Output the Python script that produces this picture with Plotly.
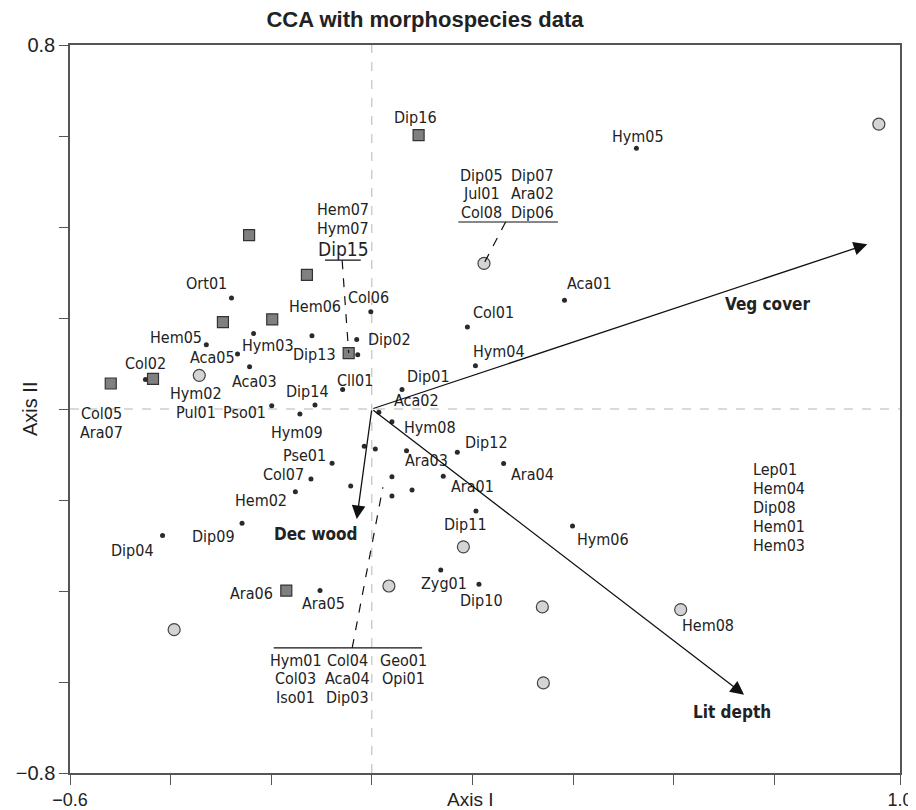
import plotly.graph_objects as go

# ---------------- data ----------------
# species scores shown as small dots with labels
species_names = ["Ort01", "Hem05", "Hym03", "Aca05", "Hem06", "Dip02", "Dip13", "Col06",
                 "Col02", "Aca03", "Cll01", "Dip14", "Pso01", "Hym09", "Dip01", "Aca02",
                 "Hym08", "Ara03", "Dip12", "Ara04", "Ara01", "Dip11", "Hym06", "Zyg01",
                 "Dip10", "Pse01", "Col07", "Hem02", "Dip09", "Dip04", "Ara05", "Hym05",
                 "Aca01", "Col01", "Hym04"]
species_x = [-0.279, -0.329, -0.235, -0.267, -0.119, -0.030, -0.028, -0.002,
             -0.450, -0.243, -0.058, -0.113, -0.199, -0.143, 0.060, 0.014,
             0.040, 0.069, 0.170, 0.262, 0.142, 0.207, 0.399, 0.137,
             0.213, -0.079, -0.121, -0.152, -0.258, -0.416, -0.103, 0.526,
             0.383, 0.190, 0.206]
species_y = [0.244, 0.141, 0.166, 0.121, 0.161, 0.153, 0.119, 0.214,
             0.065, 0.093, 0.043, 0.009, 0.007, -0.011, 0.043, -0.007,
             -0.028, -0.092, -0.095, -0.120, -0.148, -0.224, -0.257, -0.354,
             -0.385, -0.119, -0.154, -0.182, -0.251, -0.278, -0.399, 0.573,
             0.239, 0.180, 0.095]

# species scores without an individual label (grouped names)
unlabeled_x = [-0.015, 0.007, 0.040, 0.080, 0.040, -0.042]
unlabeled_y = [-0.082, -0.088, -0.149, -0.178, -0.191, -0.169]

# square markers
square_labels = ["", "", "", "", "", "", "Dip16", "", "Ara06"]
square_x = [-0.129, -0.296, -0.198, -0.046, -0.435, -0.519, 0.093, -0.244, -0.170]
square_y = [0.295, 0.191, 0.197, 0.123, 0.066, 0.056, 0.602, 0.382, -0.399]

# circle markers
circle_labels = ["", "", "", "", "", "", "", "Hem08", ""]
circle_x = [-0.343, 0.223, 1.008, 0.182, 0.034, 0.339, 0.341, 0.614, -0.393]
circle_y = [0.074, 0.320, 0.626, -0.303, -0.389, -0.435, -0.602, -0.441, -0.485]

# environmental vectors
env_names = ["Veg cover", "Lit depth", "Dec wood"]
env_x = [0.985, 0.740, -0.030]
env_y = [0.362, -0.628, -0.242]

# grouped name blocks: (columns of names, column x, first-line y)
group_hem07 = [["Hem07", "Hym07", "Dip15"]]
group_hem07_x = [-0.057]
group_hem07_y = 0.439
group_dip05 = [["Dip05", "Jul01", "Col08"], ["Dip07", "Ara02", "Dip06"]]
group_dip05_x = [0.219, 0.320]
group_dip05_y = 0.514
group_hym01 = [["Hym01", "Col03", "Iso01"], ["Col04", "Aca04", "Dip03"], ["Geo01", "Opi01"]]
group_hym01_x = [-0.151, -0.049, 0.062]
group_hym01_y = -0.552
group_lep01 = [["Lep01", "Hem04", "Dip08", "Hem01", "Hem03"]]
group_lep01_x = [0.755]
group_lep01_y = -0.134
group_col05 = [["Col05", "Ara07"]]
group_col05_x = [-0.538]
group_col05_y = -0.010
group_hym02 = [["Hym02", "Pul01"]]
group_hym02_x = [-0.350]
group_hym02_y = 0.033

# leader lines: underline span and dashed link end point
lead_hem07 = dict(u0=-0.093, u1=-0.022, uy=0.327, d0=-0.059, tx=-0.046, ty=0.123)
lead_dip05 = dict(u0=0.172, u1=0.370, uy=0.411, d0=0.266, tx=0.223, ty=0.320)
lead_hym01 = dict(u0=-0.195, u1=0.100, uy=-0.525, d0=-0.039, tx=0.022, ty=-0.172)

# x tick values (labels only at the ends)
x_tickvals = [-0.6, -0.4, -0.2, 0.0, 0.2, 0.4, 0.6, 0.8, 1.05]
x_ticktext = ["\u22120.6", "", "", "", "", "", "", "", "1.0"]
y_tickvals = [-0.8, -0.6, -0.4, -0.2, 0.0, 0.2, 0.4, 0.6, 0.8]
y_ticktext = ["\u22120.8", "", "", "", "", "", "", "", "0.8"]

# ---------------- styling ----------------
NARROW = "DejaVu Sans Condensed, Liberation Sans Narrow, Arial Narrow, sans-serif"
REG = "Liberation Sans, Arial, Helvetica, sans-serif"
TXT = "#222222"
LBL_SIZE = 16
LINE_H = 18.8
PAGE_OFF = 8  # default body margin of the html page

species_offsets = {
    "Ort01": (-25, -14), "Hem05": (-30, -7), "Hym03": (14, 12), "Aca05": (-25, 4),
    "Hem06": (3, -29), "Dip02": (33, 0), "Dip13": (-43, 0), "Col06": (-2, -14),
    "Col02": (0, -16), "Aca03": (5, 15), "Cll01": (12, -9), "Dip14": (-7, -13),
    "Pso01": (-27, 7), "Hym09": (-3, 18), "Dip01": (26, -13), "Aca02": (38, -12),
    "Hym08": (38, 6), "Ara03": (20, 10), "Dip12": (29, -10), "Ara04": (29, 11),
    "Ara01": (29, 10), "Dip11": (-10, 14), "Hym06": (30, 14), "Zyg01": (3, 13),
    "Dip10": (3, 16), "Pse01": (-28, -8), "Col07": (-27, -5), "Hem02": (-34, 9),
    "Dip09": (-29, 13), "Dip04": (-30, 15), "Ara05": (3, 13), "Hym05": (2, -12),
    "Aca01": (25, -17), "Col01": (26, -15), "Hym04": (24, -14),
}
marker_offsets = {"Dip16": (-3, -18), "Ara06": (-35, 3), "Hem08": (27, 16)}
env_offsets = {"Veg cover": (-100, 60), "Lit depth": (-12, 17), "Dec wood": (-41, 15)}

fig = go.Figure()

# zero reference lines
fig.add_shape(type="line", x0=0, x1=0, y0=-0.8, y1=0.8, xref="x", yref="y",
              line=dict(color="#b5b5b5", width=1, dash="dash"), layer="below")
fig.add_shape(type="line", x0=-0.6, x1=1.05, y0=0, y1=0, xref="x", yref="y",
              line=dict(color="#b5b5b5", width=1, dash="dash"), layer="below")

fig.add_trace(go.Scatter(x=species_x + unlabeled_x, y=species_y + unlabeled_y, mode="markers",
                         marker=dict(size=5, color="#2a2a2a"), hoverinfo="skip",
                         showlegend=False))
fig.add_trace(go.Scatter(x=square_x, y=square_y, mode="markers",
                         marker=dict(symbol="square", size=11, color="#808080",
                                     line=dict(color="#333333", width=1.2)),
                         hoverinfo="skip", showlegend=False))
fig.add_trace(go.Scatter(x=circle_x, y=circle_y, mode="markers",
                         marker=dict(symbol="circle", size=12, color="#d4d4d4",
                                     line=dict(color="#444444", width=1.2)),
                         hoverinfo="skip", showlegend=False))

annotations = []


def label(text, x, y, dx, dy, size=LBL_SIZE, bold=False, xanchor="center"):
    annotations.append(dict(
        x=x, y=y, xref="x", yref="y", text=f"<b>{text}</b>" if bold else text,
        showarrow=False, xshift=dx, yshift=-dy, xanchor=xanchor, yanchor="middle",
        borderpad=0,
        font=dict(family=NARROW, size=size, color=TXT)))


for n, x, y in zip(species_names, species_x, species_y):
    dx, dy = species_offsets[n]
    label(n, x, y, dx, dy)
for n, x, y in zip(square_labels + circle_labels, square_x + circle_x, square_y + circle_y):
    if n:
        dx, dy = marker_offsets[n]
        label(n, x, y, dx, dy)

# environmental arrows
for n, x, y in zip(env_names, env_x, env_y):
    annotations.append(dict(x=x, y=y, ax=0, ay=0, xref="x", yref="y", axref="x", ayref="y",
                            text="", showarrow=True, arrowhead=2, arrowsize=2.1,
                            arrowwidth=1.3, arrowcolor="#111111", standoff=0))
    dx, dy = env_offsets[n]
    label(n, x, y, dx, dy, size=17, bold=True)


def group(cols, xs, y0, xanchor="center", big=None):
    for col, x in zip(cols, xs):
        for i, n in enumerate(col):
            size = 19 if n == big else LBL_SIZE
            extra = 2 if n == big else 0
            label(n, x, y0, 0, i * LINE_H + extra, size=size, xanchor=xanchor)


group(group_hem07, group_hem07_x, group_hem07_y, big="Dip15")
group(group_dip05, group_dip05_x, group_dip05_y)
group(group_hym01, group_hym01_x, group_hym01_y)
group(group_lep01, group_lep01_x, group_lep01_y, xanchor="left")
group(group_col05, group_col05_x, group_col05_y)
group(group_hym02, group_hym02_x, group_hym02_y)

for ld in (lead_hem07, lead_dip05, lead_hym01):
    fig.add_shape(type="line", x0=ld["u0"], x1=ld["u1"], y0=ld["uy"], y1=ld["uy"],
                  xref="x", yref="y", line=dict(color="#111111", width=1.2))
    fig.add_shape(type="line", x0=ld["d0"], x1=ld["tx"], y0=ld["uy"], y1=ld["ty"],
                  xref="x", yref="y", line=dict(color="#111111", width=1.2, dash="dash"))

# axis titles
annotations.append(dict(x=0.482, y=0, xref="paper", yref="paper", yshift=-26,
                        text="Axis I", showarrow=False, xanchor="center", yanchor="middle",
                        font=dict(family=REG, size=19, color=TXT)))
annotations.append(dict(x=0, y=0.5, xref="paper", yref="paper", xshift=-40,
                        text="Axis II", showarrow=False, textangle=-90,
                        xanchor="center", yanchor="middle",
                        font=dict(family=REG, size=20, color=TXT)))

axis_common = dict(showgrid=False, zeroline=False, showline=True, linecolor="#555555",
                   linewidth=1.5, mirror=True, ticks="outside", tickcolor="#555555",
                   tickwidth=1.3, automargin=False)

W, H = 916, 810
fig.update_layout(
    width=W, height=H,
    margin=dict(l=70 - PAGE_OFF, r=16 + PAGE_OFF, t=45 - PAGE_OFF, b=37 + PAGE_OFF),
    paper_bgcolor="white", plot_bgcolor="white",
    title=dict(text="<b>CCA with morphospecies data</b>", x=(425 - PAGE_OFF) / W,
               xref="container", xanchor="center", y=1 - (19 - PAGE_OFF) / H,
               yref="container", yanchor="middle", automargin=False,
               font=dict(family=REG, size=22, color=TXT)),
    xaxis=dict(range=[-0.6, 1.05], tickvals=x_tickvals, ticktext=x_ticktext, ticklen=10,
               tickfont=dict(family=REG, size=18, color=TXT), **axis_common),
    yaxis=dict(range=[-0.8, 0.8], tickvals=y_tickvals, ticktext=y_ticktext, ticklen=9,
               tickfont=dict(family=REG, size=20, color=TXT), **axis_common),
    annotations=annotations,
    showlegend=False,
)

fig.write_html("out.html")
